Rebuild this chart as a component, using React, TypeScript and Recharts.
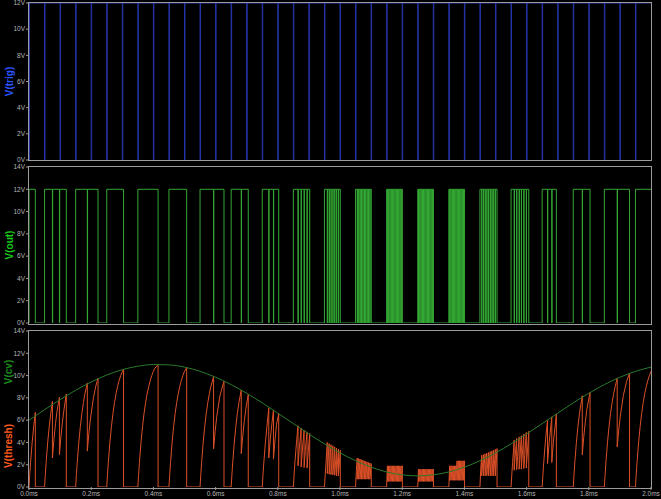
import { LineChart, Line, XAxis, YAxis, Label } from 'recharts';

// trigger pulses (ms)
const trigTimes = [
  0, 0.05, 0.1, 0.15, 0.2, 0.25, 0.3, 0.35, 0.4, 0.45,
  0.5, 0.55, 0.6, 0.65, 0.7, 0.75, 0.8, 0.85, 0.9, 0.95,
  1.0, 1.05, 1.1, 1.15, 1.2, 1.25, 1.3, 1.35, 1.4, 1.45,
  1.5, 1.55, 1.6, 1.65, 1.7, 1.75, 1.8, 1.85, 1.9, 1.95,
];

// output high intervals [rise, fall] (ms)
const outHigh = [
  [0, 0.0203], [0.05, 0.12], [0.15, 0.222], [0.25, 0.304], [0.35, 0.415],
  [0.45, 0.507], [0.55, 0.627], [0.65, 0.705], [0.75, 0.803], [0.85, 0.9026],
  [0.95, 1.001], [1.05, 1.1005], [1.15, 1.2005], [1.25, 1.3005], [1.35, 1.4005],
  [1.45, 1.505], [1.55, 1.607], [1.65, 1.6957], [1.75, 1.804], [1.85, 1.931],
  [1.95, 2.0],
];

// short output drops (ms)
const outDips = [
  0.0753, 0.0978, 0.1875, 0.5935, 0.6825, 0.771, 0.786,
  0.865, 0.875, 0.8845, 0.894,
  0.959, 0.965, 0.971, 0.977, 0.983, 0.989, 0.995,
  1.0553, 1.06, 1.0645, 1.069, 1.0735, 1.078, 1.0825, 1.087, 1.0915, 1.096,
  1.1525, 1.1565, 1.1605, 1.1645, 1.1685, 1.1725, 1.1765, 1.1805, 1.1845, 1.1885, 1.1925, 1.1965,
  1.2525, 1.2565, 1.2605, 1.2645, 1.2685, 1.2725, 1.2765, 1.2805, 1.2845, 1.2885, 1.2925, 1.2965,
  1.3525, 1.3565, 1.3605, 1.3645, 1.3685, 1.3725, 1.3765, 1.3805, 1.3845, 1.3885, 1.3925, 1.3965,
  1.4555, 1.461, 1.4665, 1.472, 1.4775, 1.483, 1.4885, 1.494, 1.4995,
  1.56, 1.568, 1.576, 1.583, 1.591, 1.599,
  1.6673, 1.681, 1.779, 1.8913,
];

// V(cv)
const cvTimes = [
  0, 0.05, 0.1, 0.15, 0.2, 0.25, 0.3, 0.35, 0.4, 0.45, 0.5, 0.55, 0.6, 0.65, 0.7, 0.75, 0.8,
  0.85, 0.9, 0.95, 1.0, 1.05, 1.1, 1.15, 1.2, 1.25, 1.3, 1.35, 1.4, 1.45, 1.5, 1.55, 1.6,
  1.65, 1.7, 1.75, 1.8, 1.85, 1.9, 1.95, 2.0,
];
const cvVolts = [
  6.0, 6.94, 7.84, 8.68, 9.42, 10.05, 10.53, 10.84, 10.99, 10.96, 10.76, 10.38, 9.85, 9.19, 8.41, 7.55, 6.63,
  5.69, 4.76, 3.87, 3.06, 2.36, 1.78, 1.35, 1.09, 1.0, 1.09, 1.35, 1.78, 2.36, 3.06, 3.87, 4.76,
  5.69, 6.63, 7.55, 8.41, 9.19, 9.85, 10.38, 10.76,
];

// V(thresh) [ms, V]
const threshPts = [
  [0, 0], [0.0025, 1.14], [0.005, 2.18], [0.01, 3.96], [0.015, 5.41], [0.0203, 6.7], [0.0203, 0],
  [0.05, 0], [0.0525, 1.14], [0.055, 2.18], [0.06, 3.96], [0.065, 5.41], [0.07, 6.61], [0.0753, 7.68],
  [0.0753, 2.6], [0.0803, 4.3], [0.0853, 5.7], [0.0903, 6.84], [0.0978, 8.04],
  [0.0978, 2.9], [0.1028, 4.55], [0.1078, 5.9], [0.1128, 7.01], [0.12, 8.35], [0.12, 0],
  [0.15, 0], [0.1525, 1.14], [0.155, 2.18], [0.16, 3.96], [0.165, 5.41], [0.17, 6.61], [0.175, 7.59], [0.18, 8.39], [0.1875, 9.34],
  [0.1875, 3.22], [0.1925, 4.81], [0.1975, 6.11], [0.2075, 8.06], [0.215, 9.08], [0.222, 9.76], [0.222, 0],
  [0.25, 0], [0.2525, 1.14], [0.255, 2.18], [0.26, 3.96], [0.265, 5.41], [0.27, 6.61], [0.275, 7.59], [0.28, 8.39],
  [0.285, 9.04], [0.29, 9.58], [0.295, 10.02], [0.304, 10.57], [0.304, 0],
  [0.35, 0], [0.3525, 1.14], [0.355, 2.18], [0.36, 3.96], [0.365, 5.41], [0.37, 6.61], [0.375, 7.59], [0.38, 8.39],
  [0.385, 9.04], [0.39, 9.58], [0.395, 10.02], [0.4, 10.38], [0.405, 10.67], [0.415, 10.97], [0.415, 0],
  [0.45, 0], [0.4525, 1.14], [0.455, 2.18], [0.46, 3.96], [0.465, 5.41], [0.47, 6.61], [0.475, 7.59], [0.48, 8.39],
  [0.485, 9.04], [0.49, 9.58], [0.495, 10.02], [0.5, 10.38], [0.507, 10.72], [0.507, 0],
  [0.55, 0], [0.5525, 1.14], [0.555, 2.18], [0.56, 3.96], [0.565, 5.41], [0.57, 6.61], [0.575, 7.59], [0.58, 8.39], [0.585, 9.04], [0.5935, 9.9],
  [0.5935, 3.43], [0.5985, 4.98], [0.6035, 6.26], [0.6135, 8.15], [0.627, 9.5], [0.627, 0],
  [0.65, 0], [0.6525, 1.14], [0.655, 2.18], [0.66, 3.96], [0.665, 5.41], [0.67, 6.61], [0.675, 7.59], [0.6825, 8.7],
  [0.6825, 3.0], [0.6875, 4.63], [0.6925, 5.97], [0.6975, 7.06], [0.705, 8.3], [0.705, 0],
  [0.75, 0], [0.7525, 1.14], [0.755, 2.18], [0.76, 3.96], [0.765, 5.41], [0.771, 7.1],
  [0.771, 2.6], [0.776, 4.3], [0.781, 5.7], [0.786, 6.9],
  [0.786, 2.5], [0.791, 4.22], [0.796, 5.63], [0.803, 6.6], [0.803, 0],
  [0.85, 0], [0.8525, 1.14], [0.855, 2.18], [0.86, 3.96], [0.865, 5.5],
  [0.865, 1.9], [0.869, 3.39], [0.875, 5.3], [0.875, 1.8], [0.879, 3.31], [0.8845, 5.1],
  [0.8845, 1.75], [0.8885, 3.27], [0.894, 4.95], [0.894, 1.7], [0.898, 3.22], [0.9026, 4.8], [0.9026, 0],
  [0.95, 0], [0.9525, 1.14], [0.955, 2.18], [0.959, 4.0], [0.959, 1.2], [0.965, 3.9], [0.965, 1.15],
  [0.971, 3.8], [0.971, 1.1], [0.977, 3.7], [0.977, 1.1], [0.983, 3.6], [0.983, 1.05], [0.989, 3.5],
  [0.989, 1.0], [0.995, 3.4], [0.995, 1.0], [1.001, 3.3], [1.001, 0],
  [1.05, 0], [1.0525, 1.4], [1.0553, 2.6], [1.0553, 0.7], [1.06, 2.55], [1.06, 0.7], [1.0645, 2.5], [1.0645, 0.7],
  [1.069, 2.45], [1.069, 0.7], [1.0735, 2.4], [1.0735, 0.7], [1.078, 2.35], [1.078, 0.7], [1.0825, 2.3], [1.0825, 0.7],
  [1.087, 2.25], [1.087, 0.7], [1.0915, 2.2], [1.0915, 0.7], [1.096, 2.15], [1.096, 0.7], [1.1005, 2.1], [1.1005, 0],
  [1.15, 0], [1.1525, 1.9], [1.1525, 0.5], [1.1565, 1.9], [1.1565, 0.5], [1.1605, 1.9], [1.1605, 0.5],
  [1.1645, 1.9], [1.1645, 0.5], [1.1685, 1.9], [1.1685, 0.5], [1.1725, 1.9], [1.1725, 0.5],
  [1.1765, 1.9], [1.1765, 0.5], [1.1805, 1.9], [1.1805, 0.5], [1.1845, 1.9], [1.1845, 0.5],
  [1.1885, 1.9], [1.1885, 0.5], [1.1925, 1.9], [1.1925, 0.5], [1.1965, 1.9], [1.1965, 0.5], [1.2005, 1.9], [1.2005, 0],
  [1.25, 0], [1.2525, 1.6], [1.2525, 0.5], [1.2565, 1.6], [1.2565, 0.5], [1.2605, 1.6], [1.2605, 0.5],
  [1.2645, 1.6], [1.2645, 0.5], [1.2685, 1.6], [1.2685, 0.5], [1.2725, 1.6], [1.2725, 0.5],
  [1.2765, 1.6], [1.2765, 0.5], [1.2805, 1.6], [1.2805, 0.5], [1.2845, 1.6], [1.2845, 0.5],
  [1.2885, 1.6], [1.2885, 0.5], [1.2925, 1.6], [1.2925, 0.5], [1.2965, 1.6], [1.2965, 0.5], [1.3005, 1.6], [1.3005, 0],
  [1.35, 0], [1.3525, 1.9], [1.3525, 0.6], [1.3565, 1.9], [1.3565, 0.6], [1.3605, 1.9], [1.3605, 0.6],
  [1.3645, 1.9], [1.3645, 0.6], [1.3685, 1.9], [1.3685, 0.6], [1.3725, 1.9], [1.3725, 0.6],
  [1.3765, 2.35], [1.3765, 0.6], [1.3805, 2.35], [1.3805, 0.6], [1.3845, 2.35], [1.3845, 0.6],
  [1.3885, 2.35], [1.3885, 0.6], [1.3925, 2.35], [1.3925, 0.6], [1.3965, 2.35], [1.3965, 0.6], [1.4005, 2.35], [1.4005, 0],
  [1.45, 0], [1.4525, 1.6], [1.4555, 2.85], [1.4555, 1.0], [1.461, 2.9], [1.461, 1.0], [1.4665, 2.97], [1.4665, 1.0],
  [1.472, 3.04], [1.472, 1.0], [1.4775, 3.1], [1.4775, 1.0], [1.483, 3.17], [1.483, 1.0], [1.4885, 3.24], [1.4885, 1.0],
  [1.494, 3.31], [1.494, 1.0], [1.4995, 3.38], [1.4995, 1.0], [1.505, 3.45], [1.505, 0],
  [1.55, 0], [1.5525, 1.14], [1.555, 2.18], [1.56, 4.2], [1.56, 1.5], [1.563, 2.69], [1.568, 4.35],
  [1.568, 1.55], [1.571, 2.73], [1.576, 4.5], [1.576, 1.6], [1.579, 2.78], [1.583, 4.6],
  [1.583, 1.6], [1.586, 2.78], [1.591, 4.75], [1.591, 1.65], [1.594, 2.83], [1.599, 4.9],
  [1.599, 1.7], [1.602, 2.87], [1.607, 5.0], [1.607, 0],
  [1.65, 0], [1.6525, 1.14], [1.655, 2.18], [1.66, 3.96], [1.6673, 6.0], [1.6673, 2.1], [1.6723, 3.9], [1.681, 6.3],
  [1.681, 2.2], [1.686, 3.98], [1.6957, 6.55], [1.6957, 0],
  [1.75, 0], [1.7525, 1.14], [1.755, 2.18], [1.76, 3.96], [1.765, 5.41], [1.77, 6.61], [1.779, 8.2],
  [1.779, 2.9], [1.784, 4.55], [1.789, 5.9], [1.794, 7.01], [1.804, 8.5], [1.804, 0],
  [1.85, 0], [1.8525, 1.14], [1.855, 2.18], [1.86, 3.96], [1.865, 5.41], [1.87, 6.61], [1.875, 7.59], [1.88, 8.39],
  [1.885, 9.04], [1.8913, 9.76], [1.8913, 3.6], [1.8963, 5.12], [1.9013, 6.37], [1.9113, 8.23], [1.9213, 9.47],
  [1.931, 10.2], [1.931, 0],
  [1.95, 0], [1.9525, 1.14], [1.955, 2.18], [1.96, 3.96], [1.965, 5.41], [1.97, 6.61], [1.975, 7.59], [1.98, 8.39],
  [1.985, 9.04], [1.99, 9.58], [1.995, 10.02], [2.0, 10.38],
];

const trigData = (() => {
  const pts: { t: number; v: number }[] = [];
  trigTimes.forEach((t) => {
    pts.push({ t, v: 12 }, { t, v: 0 }, { t: t + 0.0015, v: 0 }, { t: t + 0.0015, v: 12 });
  });
  pts.push({ t: 2, v: 12 });
  return pts;
})();

const outData = (() => {
  const pts: { t: number; v: number }[] = [];
  outHigh.forEach(([rise, fall]) => {
    pts.push({ t: rise, v: 0 }, { t: rise, v: 12 });
    outDips
      .filter((d) => d > rise && d < fall)
      .forEach((d) => {
        pts.push({ t: d, v: 12 }, { t: d, v: 0 }, { t: d + 0.0008, v: 0 }, { t: d + 0.0008, v: 12 });
      });
    pts.push({ t: fall, v: 12 });
    if (fall < 2) pts.push({ t: fall, v: 0 });
  });
  return pts;
})();

const cvData = cvTimes.map((t, i) => ({ t, v: cvVolts[i] }));
const threshData = threshPts.map(([t, v]) => ({ t, v }));

const msTicks = [0, 0.2, 0.4, 0.6, 0.8, 1.0, 1.2, 1.4, 1.6, 1.8, 2.0];

const FONT = '"Liberation Sans", Arial, sans-serif';
const GRID = '#9c9c9c';
const tickStyle = { fontSize: 6.5, fill: '#b4b4b4', fontFamily: FONT };

const sideLabel = (text: string, color: string, frac: number) => (props: any) => {
  const vb = props.viewBox || { x: 0, y: 0, width: 29, height: 156 };
  const cx = 9;
  const cy = vb.y + vb.height * frac;
  return (
    <text
      x={cx}
      y={cy}
      transform={`rotate(-90 ${cx} ${cy})`}
      textAnchor="middle"
      dominantBaseline="central"
      fill={color}
      fontSize={10}
      fontWeight="bold"
      fontFamily={FONT}
    >
      {text}
    </text>
  );
};

function Frame({ top, height }: { top: number; height: number }) {
  return (
    <div
      style={{
        position: 'absolute',
        left: 28,
        top,
        width: 624,
        height,
        boxSizing: 'border-box',
        border: `1px solid ${GRID}`,
        pointerEvents: 'none',
      }}
    />
  );
}

export default function App() {
  const yAxisCommon = {
    type: 'number' as const,
    width: 29,
    axisLine: false,
    tickLine: { stroke: GRID },
    tickSize: 3,
    tickMargin: 1,
    tick: tickStyle,
    interval: 0 as const,
    allowDataOverflow: true,
  };

  return (
    <div style={{ position: 'absolute', left: 0, top: 0, width: 661, height: 499, background: '#000', overflow: 'hidden' }}>
      <div style={{ position: 'absolute', left: 0, top: 0 }}>
        <LineChart width={661} height={164} margin={{ top: 3, right: 10, bottom: 4, left: 0 }}>
          <XAxis dataKey="t" type="number" domain={[0, 2]} hide allowDataOverflow />
          <YAxis {...yAxisCommon} domain={[0, 12]} ticks={[0, 2, 4, 6, 8, 10, 12]} tickFormatter={(v) => `${v}V`}>
            <Label content={sideLabel('V(trig)', '#2b55ff', 0.5)} />
          </YAxis>
          <Line data={trigData} dataKey="v" type="linear" stroke="#2434a8" strokeWidth={1} dot={false} isAnimationActive={false} />
        </LineChart>
      </div>

      <div style={{ position: 'absolute', left: 0, top: 163 }}>
        <LineChart width={661} height={164} margin={{ top: 4, right: 10, bottom: 4, left: 0 }}>
          <XAxis dataKey="t" type="number" domain={[0, 2]} hide allowDataOverflow />
          <YAxis {...yAxisCommon} domain={[0, 14]} ticks={[0, 2, 4, 6, 8, 10, 12, 14]} tickFormatter={(v) => `${v}V`}>
            <Label content={sideLabel('V(out)', '#19c819', 0.5)} />
          </YAxis>
          <Line data={outData} dataKey="v" type="linear" stroke="#34a834" strokeWidth={1} dot={false} isAnimationActive={false} />
        </LineChart>
      </div>

      <div style={{ position: 'absolute', left: 0, top: 327 }}>
        <LineChart width={661} height={172} margin={{ top: 4, right: 10, bottom: 0, left: 0 }}>
          <XAxis
            dataKey="t"
            type="number"
            domain={[0, 2]}
            ticks={msTicks}
            tickFormatter={(v) => `${Number(v).toFixed(1)}ms`}
            height={12}
            axisLine={false}
            tickLine={{ stroke: GRID }}
            tickSize={3}
            tickMargin={1}
            tick={tickStyle}
            interval={0}
            allowDataOverflow
          />
          <YAxis {...yAxisCommon} domain={[0, 14]} ticks={[0, 2, 4, 6, 8, 10, 12, 14]} tickFormatter={(v) => `${v}V`}>
            <Label content={sideLabel('V(cv)', '#1a8c1a', 0.263)} />
            <Label content={sideLabel('V(thresh)', '#ff5a1e', 0.737)} />
          </YAxis>
          <Line data={threshData} dataKey="v" type="linear" stroke="#dc5028" strokeWidth={1} dot={false} isAnimationActive={false} />
          <Line data={cvData} dataKey="v" type="monotone" stroke="#2a7a2a" strokeWidth={1} dot={false} isAnimationActive={false} />
        </LineChart>
      </div>

      <Frame top={2} height={159} />
      <Frame top={166} height={159} />
      <Frame top={330} height={159} />
    </div>
  );
}
